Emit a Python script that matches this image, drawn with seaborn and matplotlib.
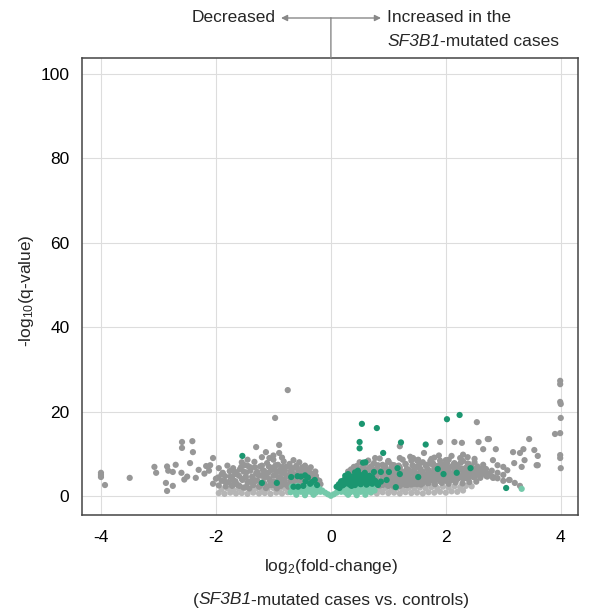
import pandas as pd
import matplotlib.pyplot as plt
import seaborn as sns

# gray: not significant (scattered points and outliers)
gray_x = [
    -4.0, -4.0, -4.0, -3.93, -3.5, -3.07, -3.04, -2.87, -2.75, -2.85, -2.85, -2.83, -2.7, -2.75,
    -2.59, -2.41, -2.59, -2.4, -2.45, -2.6, -2.5, -2.55, -2.35, -2.3, -2.2, -2.17, -2.1, -2.05,
    -2.12, -2.0, -2.05, -1.95, -1.9, -1.85, -1.8, -1.75, -1.72, -1.68, -1.65,
    -0.75, -0.97, -1.3, -0.9, -0.9, -1.13, -1.07,
    -1.70, -1.66, -1.62, -1.58, -1.55, -1.52, -1.50, -1.47, -1.45, -1.42, -1.40, -1.37, -1.35,
    -1.33, -1.30, -1.28, -1.25, -1.23, -1.20, -1.18, -1.16, -1.13, -1.11, -1.09, -1.07, -1.04,
    -1.02, -1.00, -0.98, -0.96, -0.94, -0.92, -0.90, -0.88, -0.86, -0.84, -0.82, -0.80, -0.78,
    -0.76, -0.74, -0.72, -0.70, -0.68, -0.66, -0.64, -0.62, -0.60, -0.58, -0.56, -0.54, -0.52,
    -0.50, -0.48, -0.46, -0.44, -0.42, -0.40, -0.38, -0.36, -0.34, -0.32, -0.30, -0.28, -0.26,
    -0.24, -0.22, -0.20, -0.18,
    -1.48, -1.38, -1.26, -1.15, -1.05, -0.97, -0.87, -0.79, -0.71, -0.63, -0.57, -0.49, -0.43,
    -0.37, -1.55, -1.45, -1.2, -1.0, -0.85, -0.65, -0.55, -0.45, -0.35, -0.27,
    0.30, 0.30, 0.35, 0.35, 0.40, 0.40, 0.40, 0.45, 0.45, 0.50, 0.50, 0.50, 0.55, 0.55, 0.55,
    0.60, 0.60, 0.60, 0.65, 0.65, 0.65, 0.70, 0.70, 0.70, 0.75, 0.75, 0.75, 0.80, 0.80, 0.80,
    0.85, 0.85, 0.85, 0.90, 0.90, 0.90, 0.90, 0.95, 0.95, 0.95, 1.00, 1.00, 1.00, 1.00,
    1.05, 1.05, 1.05, 1.10, 1.10, 1.10, 1.10, 1.15, 1.15, 1.15, 1.20, 1.20, 1.20, 1.20, 1.20,
    1.25, 1.25, 1.25, 1.30, 1.30, 1.30, 1.30, 1.35, 1.35, 1.35, 1.40, 1.40, 1.40, 1.40,
    1.45, 1.45, 1.45, 1.50, 1.50, 1.50, 1.50, 1.55, 1.55, 1.55, 1.60, 1.60, 1.60, 1.60,
    1.65, 1.65, 1.65, 1.70, 1.70, 1.70, 1.75, 1.75, 1.75, 1.80, 1.80, 1.80, 1.80,
    1.85, 1.85, 1.85, 1.90, 1.90, 1.90, 1.90, 1.95, 1.95, 1.95, 2.00, 2.00, 2.00,
    2.05, 2.05, 2.05, 2.10, 2.10, 2.10, 2.15, 2.15, 2.15, 2.20, 2.20, 2.20, 2.25, 2.25,
    2.30, 2.30, 2.30, 2.35, 2.35, 2.40, 2.40, 2.40, 2.45, 2.45, 2.50, 2.50, 2.50, 2.55, 2.55,
    2.60, 2.60, 2.65, 2.65, 2.70, 2.70, 2.75, 2.80, 2.80, 2.90, 2.90, 3.00, 3.00,
    1.9, 2.15, 2.28, 2.57, 2.75, 2.54, 3.45, 3.17, 3.29, 3.35, 3.54, 3.6, 3.6, 2.65, 1.2, 1.62,
    1.73, 2.1, 2.3, 2.38, 2.82, 2.9, 3.0, 3.07, 2.82, 3.1, 3.2, 3.29, 0.77, 1.0, 1.43, 1.52,
    2.73, 2.87, 3.19, 3.37, 3.58, 3.32, 3.11,
    3.99, 3.99, 3.99, 4.0, 4.0, 3.99, 3.99, 3.99, 4.0, 3.90,
]
gray_y = [
    5.5, 5.0, 4.5, 2.6, 4.3, 6.9, 5.5, 3.1, 2.4, 1.2, 7.0, 6.0, 7.4, 5.7,
    12.8, 13.0, 11.4, 10.4, 7.8, 5.5, 4.6, 3.9, 4.3, 6.2, 5.3, 7.1, 7.3, 9.0,
    6.0, 4.1, 2.9, 6.6, 5.1, 3.5, 7.2, 4.6, 2.4, 5.8, 3.0,
    25.1, 18.5, 11.6, 12.1, 10.2, 10.4, 9.0,
    3.8, 5.2, 2.6, 6.4, 4.1, 2.0, 7.3, 5.6, 3.2, 1.8, 6.8, 4.6, 2.7,
    8.1, 5.4, 3.7, 2.2, 7.0, 4.8, 6.1, 3.0, 1.9, 7.8, 5.5, 4.0, 2.6,
    6.7, 8.6, 3.4, 5.0, 1.8, 7.4, 4.3, 6.2, 2.8, 5.6, 8.2, 3.6, 6.9,
    4.8, 2.2, 7.6, 5.9, 3.9, 6.6, 2.9, 5.1, 7.2, 4.2, 6.0, 3.3, 5.4,
    6.8, 2.6, 4.7, 5.9, 3.6, 5.2, 6.3, 4.1, 3.0, 5.0, 4.4, 3.5, 4.8,
    3.9, 3.1, 3.6, 2.8,
    4.4, 3.5, 5.0, 4.5, 3.3, 6.1, 3.6, 5.1, 4.4, 3.7, 2.6, 3.9, 2.8,
    2.4, 8.0, 8.6, 9.2, 9.6, 9.1, 8.5, 8.0, 7.2, 6.8, 5.8,
    4.6, 5.8, 5.2, 6.3, 4.8, 6.9, 3.9, 5.5, 7.1, 4.4, 6.2, 8.0, 5.0, 6.8, 3.6,
    5.7, 7.6, 4.2, 4.6, 6.4, 8.4, 3.4, 5.3, 7.0, 4.1, 6.0, 7.8, 2.9, 4.8, 6.6,
    3.6, 5.6, 8.9, 2.6, 4.3, 6.2, 7.4, 3.2, 5.1, 6.9, 2.4, 4.0, 5.8, 8.2,
    3.0, 4.7, 6.5, 2.2, 3.8, 5.4, 7.3, 2.8, 4.5, 6.1, 2.4, 3.6, 5.0, 6.8, 9.0,
    2.9, 4.2, 5.7, 2.6, 3.9, 5.2, 7.6, 3.1, 4.6, 6.3, 2.7, 3.7, 5.5, 8.4,
    3.3, 4.4, 6.0, 2.8, 4.0, 5.3, 7.0, 3.4, 4.8, 6.5, 3.0, 4.2, 5.8, 8.0,
    3.6, 5.0, 7.2, 3.1, 4.5, 6.1, 3.8, 5.4, 7.6, 3.3, 4.7, 6.6, 9.1,
    4.0, 5.7, 7.1, 3.5, 4.9, 6.3, 8.4, 4.2, 5.9, 7.5, 3.6, 5.1, 6.8,
    4.4, 6.0, 8.6, 3.8, 5.3, 7.0, 4.5, 6.3, 7.8, 4.0, 5.5, 7.3, 4.7, 6.5,
    4.1, 5.8, 8.3, 4.9, 6.7, 4.3, 5.9, 7.6, 5.0, 6.9, 4.4, 5.6, 8.8, 5.2, 7.0,
    4.6, 6.1, 5.5, 7.4, 4.8, 6.4, 5.3, 4.7, 6.0, 5.5, 4.2, 5.0, 3.6,
    12.8, 12.8, 12.6, 12.8, 13.5, 17.5, 13.5, 10.4, 10.2, 11.1, 10.9, 9.5, 7.3, 11.1, 11.8, 10.2,
    8.3, 9.5, 9.8, 9.2, 8.5, 7.3, 6.9, 6.1, 4.3, 3.8, 3.1, 2.4, 9.0, 8.1, 9.0, 8.6,
    13.5, 11.1, 7.8, 8.5, 7.3, 6.9, 3.8,
    27.3, 26.5, 22.3, 21.8, 18.5, 14.9, 9.7, 9.0, 6.6, 14.7,
]

# gray: dense body of the two clouds
dense_x = [
    -1.95, -1.83, -1.71, -1.59, -1.47, -1.35, -1.23, -1.11, -0.99, -0.87, -0.78,
    -1.90, -1.78, -1.66, -1.54, -1.42, -1.30, -1.18, -1.06, -0.94, -0.82, -0.70, -0.58, -0.46,
    -0.34, -0.25,
    -1.96, -1.84, -1.72, -1.60, -1.48, -1.36, -1.24, -1.12, -1.00, -0.88, -0.76, -0.64, -0.52,
    -0.40, -0.30,
    -1.88, -1.76, -1.64, -1.52, -1.40, -1.28, -1.16, -1.04, -0.92, -0.80, -0.68, -0.56, -0.44,
    -0.34,
    -1.70, -1.56, -1.44, -1.32, -1.20, -1.08, -0.96, -0.84, -0.72, -0.60, -0.48,
    0.85, 0.97, 1.09, 1.21, 1.33, 1.45, 1.57, 1.69, 1.81, 1.93, 2.05, 2.17, 2.29, 2.41, 2.53,
    0.80, 0.92, 1.04, 1.16, 1.28, 1.40, 1.52, 1.64, 1.76, 1.88, 2.00, 2.12, 2.24, 2.36, 2.48,
    2.60, 2.72, 2.84,
    0.40, 0.52, 0.64, 0.76, 0.88, 1.00, 1.12, 1.24, 1.36, 1.48, 1.60, 1.72, 1.84, 1.96, 2.08,
    2.20, 2.32, 2.44, 2.56, 2.68,
    0.48, 0.60, 0.72, 0.84, 0.96, 1.08, 1.20, 1.32, 1.44, 1.56, 1.68, 1.80, 1.92, 2.04, 2.16,
    2.28, 2.40, 2.52, 2.64,
    0.70, 0.82, 0.94, 1.06, 1.18, 1.30, 1.42, 1.54, 1.66, 1.78, 1.90, 2.02, 2.14, 2.26, 2.38,
    2.50,
    1.00, 1.25, 1.50, 1.75, 2.00, 2.25, 1.38, 1.88,
]
dense_y = [
    2.5, 2.3, 2.6, 2.4, 2.2, 2.6, 2.5, 2.3, 2.6, 2.4, 2.7,
    3.6, 3.3, 3.5, 3.8, 3.4, 3.6, 3.3, 3.7, 3.5, 3.8, 3.4, 3.6, 3.9,
    3.7, 3.2,
    4.4, 4.7, 4.5, 4.8, 4.6, 4.4, 4.9, 4.6, 4.8, 4.5, 4.7, 5.0, 4.6,
    4.8, 4.3,
    5.5, 5.9, 5.6, 5.8, 6.0, 5.7, 5.9, 6.1, 5.8, 6.0, 5.7, 5.9, 5.6,
    5.3,
    6.6, 6.9, 7.1, 6.8, 7.2, 7.0, 7.3, 6.9, 7.1, 6.7, 6.5,
    2.5, 2.7, 2.4, 2.8, 2.6, 2.9, 2.7, 3.0, 2.8, 3.1, 2.9, 3.2, 3.0, 3.3, 3.4,
    3.8, 3.6, 3.9, 3.7, 4.0, 3.8, 4.1, 3.9, 4.2, 4.0, 4.3, 4.1, 4.4, 4.2, 4.5,
    4.3, 4.6, 4.4,
    4.9, 5.1, 4.8, 5.0, 5.2, 4.9, 5.1, 5.3, 5.0, 5.2, 5.4, 5.1, 5.3, 5.5, 5.2,
    5.4, 5.6, 5.3, 5.5, 5.7,
    6.0, 6.2, 5.9, 6.1, 6.3, 6.0, 6.2, 6.4, 6.1, 6.3, 6.5, 6.2, 6.4, 6.6, 6.3,
    6.5, 6.7, 6.4, 6.6,
    7.0, 7.3, 7.1, 7.4, 7.2, 7.5, 7.3, 7.6, 7.4, 7.7, 7.5, 7.8, 7.6, 7.9, 7.7,
    8.0,
    8.3, 8.6, 8.4, 8.8, 8.5, 9.0, 9.3, 9.6,
]

# lighter gray band close to zero
lgray_x = [
    -1.95, -1.85, -1.75, -1.65, -1.55, -1.45, -1.35, -1.25, -1.15, -1.05, -0.95, -0.85, -0.75,
    -1.90, -1.80, -1.70, -1.60, -1.50, -1.40, -1.30, -1.20, -1.10, -1.00, -0.90, -0.80, -0.70,
    0.70, 0.80, 0.90, 1.00, 1.10, 1.20, 1.30, 1.40, 1.50, 1.60, 1.70, 1.80, 1.90, 2.00, 2.10,
    2.20, 2.30,
    0.75, 0.85, 0.95, 1.05, 1.15, 1.25, 1.35, 1.45, 1.55, 1.65, 1.75, 1.85, 1.95, 2.05, 2.15,
    2.25, 2.35, 2.45,
]
lgray_y = [
    0.7, 0.5, 0.8, 0.6, 0.7, 0.5, 0.8, 0.6, 0.7, 0.5, 0.8, 0.6, 0.9,
    1.6, 1.8, 1.5, 1.7, 1.9, 1.6, 1.8, 1.5, 1.7, 1.9, 1.6, 1.8, 1.7,
    0.8, 0.6, 0.9, 0.7, 0.8, 0.6, 0.9, 0.7, 0.8, 0.6, 0.9, 0.8, 1.0, 0.8, 1.1,
    1.0, 1.3,
    1.8, 1.6, 1.9, 1.7, 1.8, 1.6, 1.9, 1.8, 2.0, 1.8, 2.1, 1.9, 2.2, 2.0, 2.3,
    2.1, 2.4, 2.3,
]

# light teal: small effect near zero (V shape)
lteal_x = [
    -0.70, -0.61, -0.52, -0.43, -0.34, -0.26, -0.18, 0.18, 0.26, 0.34, 0.43, 0.52, 0.61, 0.70,
    -0.66, -0.56, -0.46, -0.37, -0.28, -0.21, 0.22, 0.30, 0.39, 0.48, 0.57, 0.66, 0.76,
    -0.68, -0.58, -0.48, -0.38, -0.29, 0.27, 0.36, 0.45, 0.54, 0.63, 0.72,
    0.0, -0.05, 0.05, -0.10, 0.10, -0.15, 0.15, -0.20, 0.22,
    -0.60, -0.45, -0.30, 0.30, 0.45, 0.60,
    3.32,
]
lteal_y = [
    0.9, 0.8, 1.0, 0.8, 0.9, 0.8, 1.0, 1.0, 0.8, 0.9, 0.8, 1.0, 0.8, 0.9,
    1.5, 1.4, 1.6, 1.5, 1.4, 1.6, 1.5, 1.6, 1.4, 1.5, 1.6, 1.4, 1.3,
    2.2, 2.4, 2.3, 2.5, 2.3, 2.4, 2.6, 2.3, 2.5, 2.2, 2.3,
    0.05, 0.4, 0.4, 0.8, 0.8, 1.3, 1.4, 1.7, 1.9,
    0.3, 0.2, 0.3, 0.3, 0.2, 0.3,
    1.7,
]

# dark green: significant
green_x = [
    0.10, 0.14, 0.18, 0.20, 0.23, 0.26, 0.28, 0.31, 0.33, 0.35, 0.38, 0.40, 0.43, 0.45, 0.47,
    0.50, 0.52, 0.54, 0.57, 0.59, 0.62, 0.64, 0.67, 0.69, 0.72, 0.75, 0.78, 0.82, 0.87, 0.97,
    1.01, 1.13, 1.16, 1.20, 1.52, 1.86, 1.96, 2.19, 2.43, 0.50, 0.50, 0.54, 0.80, 1.22, 0.91,
    1.65, 0.56, 0.60, 2.02, 2.24, 3.05, 0.25, 0.30, 0.42, 0.47, 0.36, 0.15,
    0.22, 0.32, 0.42, 0.52, 0.62, 0.72, 0.82,
    0.18, 0.27, 0.37, 0.47, 0.57, 0.67, 0.77, 0.87,
    0.32, 0.42, 0.52, 0.62, 0.72,
    -1.54, -1.20, -0.94, -0.69, -0.58, -0.52, -0.45, -0.40, -0.65, -0.57, -0.48, -0.33, -0.24,
    -0.36, -0.28, -0.44,
]
green_y = [
    2.2, 2.8, 3.3, 2.5, 3.8, 3.0, 4.3, 3.5, 2.7, 4.6, 3.9, 3.1, 4.9, 4.2, 3.4,
    5.1, 2.9, 4.5, 3.7, 5.5, 4.0, 3.0, 4.8, 3.6, 4.3, 5.7, 3.3, 2.8, 5.7, 3.8,
    5.7, 2.1, 6.6, 5.2, 4.5, 6.4, 5.2, 5.5, 6.6, 12.8, 11.3, 17.1, 16.1, 12.7, 10.2,
    12.2, 7.9, 8.0, 18.2, 19.2, 1.9, 4.8, 5.2, 5.6, 6.0, 2.4, 1.9,
    2.7, 2.9, 2.6, 2.8, 2.7, 2.9, 2.6,
    3.5, 3.7, 3.6, 3.8, 3.5, 3.7, 3.6, 3.4,
    4.4, 4.5, 4.3, 4.6, 4.4,
    9.5, 3.1, 3.1, 4.5, 4.7, 4.6, 4.9, 4.4, 2.2, 2.2, 2.4, 3.3, 2.6,
    2.9, 3.8, 3.5,
]

colors = {"lgray": "#b5b5b5", "gray": "#979797", "lteal": "#74c9aa", "green": "#1b9670"}

df = pd.concat([
    pd.DataFrame({"lfc": lgray_x, "q": lgray_y, "grp": "lgray"}),
    pd.DataFrame({"lfc": dense_x, "q": dense_y, "grp": "gray"}),
    pd.DataFrame({"lfc": gray_x, "q": gray_y, "grp": "gray"}),
    pd.DataFrame({"lfc": lteal_x, "q": lteal_y, "grp": "lteal"}),
    pd.DataFrame({"lfc": green_x, "q": green_y, "grp": "green"}),
], ignore_index=True)

sns.set_theme(style="whitegrid")
plt.rcParams["font.family"] = ["Liberation Sans", "DejaVu Sans"]
plt.rcParams["mathtext.fontset"] = "custom"
plt.rcParams["mathtext.rm"] = "Liberation Sans"
plt.rcParams["mathtext.it"] = "Liberation Sans:italic"
plt.rcParams["axes.unicode_minus"] = False

W, H = 589, 612
FS = 12.5
fig = plt.figure(figsize=(W / 100, H / 100), dpi=100)
ax = fig.add_axes([82 / W, 97 / H, 496 / W, 457 / H])

sns.scatterplot(data=df, x="lfc", y="q", hue="grp", palette=colors, s=20,
                linewidth=0, legend=False, ax=ax)

ax.set_xlim(-4.33, 4.30)
ax.set_ylim(-4.5, 103.8)
ax.set_xticks([-4, -2, 0, 2, 4])
ax.set_yticks([0, 20, 40, 60, 80, 100])
ax.grid(True, color="#dddddd", linewidth=0.8)
for sp in ax.spines.values():
    sp.set_color("#444444")
    sp.set_linewidth(1.1)
ax.tick_params(direction="out", length=5, width=1, color="#444444",
               labelsize=FS, labelcolor="black", pad=4)
ax.tick_params(axis="x", pad=6)
ax.set_xlabel("")
ax.set_ylabel("-log$_{10}$(q-value)", fontsize=FS)
ax.yaxis.set_label_coords(-0.093, 0.49)


def text_row(xpx, ypx, parts, ha="left"):
    # lay out mixed upright / italic pieces side by side
    r = fig.canvas.get_renderer()
    items = []
    for s, style in parts:
        t = fig.text(0, 1 - ypx / H, s, style=style, va="center", ha="left", fontsize=FS)
        items.append((t, t.get_window_extent(renderer=r).width))
    total = sum(w for _, w in items)
    x = xpx - total / 2 if ha == "center" else xpx
    for t, w in items:
        t.set_x(x / W)
        x += w


fig.text(330.9 / W, 1 - 567 / H, "log$_{2}$(fold-change)", ha="center", va="center", fontsize=FS)
text_row(330.9, 600, [("(", "normal"), ("SF3B1", "italic"),
                      ("-mutated cases vs. controls)", "normal")], ha="center")

# direction arrows above the plot
yarr = H - 18
arrow_kw = dict(arrowstyle="-|>", color="#888888", lw=1, mutation_scale=9,
                shrinkA=0, shrinkB=0)
ax.annotate("", xy=(281, yarr), xytext=(330.9, yarr), xycoords="figure pixels",
            textcoords="figure pixels", arrowprops=arrow_kw, annotation_clip=False)
ax.annotate("", xy=(381, yarr), xytext=(330.9, yarr), xycoords="figure pixels",
            textcoords="figure pixels", arrowprops=arrow_kw, annotation_clip=False)
ax.annotate("", xy=(330.9, H - 58), xytext=(330.9, yarr), xycoords="figure pixels",
            textcoords="figure pixels",
            arrowprops=dict(arrowstyle="-", color="#888888", lw=1, shrinkA=0, shrinkB=0),
            annotation_clip=False)
fig.text(276 / W, 1 - 18 / H, "Decreased", ha="right", va="center", fontsize=FS)
fig.text(387 / W, 1 - 18 / H, "Increased in the", ha="left", va="center", fontsize=FS)
text_row(387, 42, [("SF3B1", "italic"), ("-mutated cases", "normal")])

fig.savefig("out.png", dpi=100)
